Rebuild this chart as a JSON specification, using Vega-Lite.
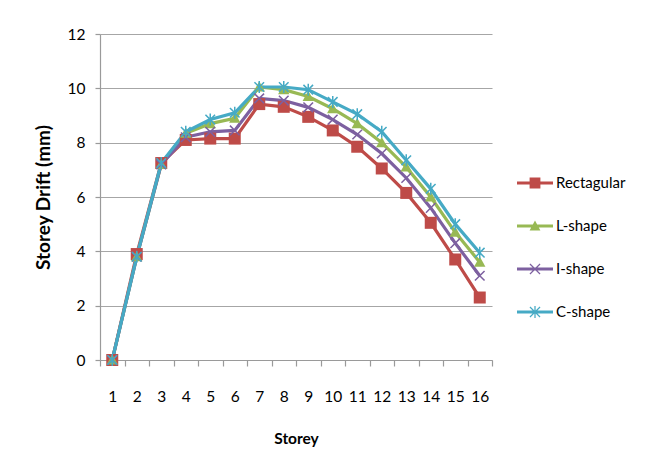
{
  "$schema": "https://vega.github.io/schema/vega-lite/v6.json",
  "width": 392,
  "height": 326,
  "autosize": {"type": "none"},
  "padding": {"left": 100, "top": 34, "right": 157, "bottom": 108},
  "background": "white",
  "config": {
    "font": "Lato",
    "view": {"stroke": null},
    "axis": {"labelColor": "#000000", "titleColor": "#000000", "domainColor": "#9a9a9a", "tickColor": "#9a9a9a", "gridColor": "#a6a6a6", "domainWidth": 1.2, "tickWidth": 1.2, "gridWidth": 1.2}
  },
  "datasets": {
    "d": [
      {"storey": 1, "series": "Rectagular", "drift": 0},
      {"storey": 2, "series": "Rectagular", "drift": 3.9},
      {"storey": 3, "series": "Rectagular", "drift": 7.25},
      {"storey": 4, "series": "Rectagular", "drift": 8.1},
      {"storey": 5, "series": "Rectagular", "drift": 8.15},
      {"storey": 6, "series": "Rectagular", "drift": 8.15},
      {"storey": 7, "series": "Rectagular", "drift": 9.42},
      {"storey": 8, "series": "Rectagular", "drift": 9.32},
      {"storey": 9, "series": "Rectagular", "drift": 8.95},
      {"storey": 10, "series": "Rectagular", "drift": 8.45},
      {"storey": 11, "series": "Rectagular", "drift": 7.85},
      {"storey": 12, "series": "Rectagular", "drift": 7.05},
      {"storey": 13, "series": "Rectagular", "drift": 6.15},
      {"storey": 14, "series": "Rectagular", "drift": 5.05},
      {"storey": 15, "series": "Rectagular", "drift": 3.7},
      {"storey": 16, "series": "Rectagular", "drift": 2.3},
      {"storey": 1, "series": "L-shape", "drift": 0},
      {"storey": 2, "series": "L-shape", "drift": 3.8},
      {"storey": 3, "series": "L-shape", "drift": 7.2},
      {"storey": 4, "series": "L-shape", "drift": 8.35},
      {"storey": 5, "series": "L-shape", "drift": 8.7},
      {"storey": 6, "series": "L-shape", "drift": 8.9},
      {"storey": 7, "series": "L-shape", "drift": 10.05},
      {"storey": 8, "series": "L-shape", "drift": 9.95},
      {"storey": 9, "series": "L-shape", "drift": 9.7},
      {"storey": 10, "series": "L-shape", "drift": 9.25},
      {"storey": 11, "series": "L-shape", "drift": 8.7},
      {"storey": 12, "series": "L-shape", "drift": 8.0},
      {"storey": 13, "series": "L-shape", "drift": 7.1},
      {"storey": 14, "series": "L-shape", "drift": 6.0},
      {"storey": 15, "series": "L-shape", "drift": 4.7},
      {"storey": 16, "series": "L-shape", "drift": 3.6},
      {"storey": 1, "series": "I-shape", "drift": 0},
      {"storey": 2, "series": "I-shape", "drift": 3.8},
      {"storey": 3, "series": "I-shape", "drift": 7.2},
      {"storey": 4, "series": "I-shape", "drift": 8.2},
      {"storey": 5, "series": "I-shape", "drift": 8.4},
      {"storey": 6, "series": "I-shape", "drift": 8.45},
      {"storey": 7, "series": "I-shape", "drift": 9.63},
      {"storey": 8, "series": "I-shape", "drift": 9.55},
      {"storey": 9, "series": "I-shape", "drift": 9.3},
      {"storey": 10, "series": "I-shape", "drift": 8.85},
      {"storey": 11, "series": "I-shape", "drift": 8.3},
      {"storey": 12, "series": "I-shape", "drift": 7.6},
      {"storey": 13, "series": "I-shape", "drift": 6.7},
      {"storey": 14, "series": "I-shape", "drift": 5.6},
      {"storey": 15, "series": "I-shape", "drift": 4.3},
      {"storey": 16, "series": "I-shape", "drift": 3.1},
      {"storey": 1, "series": "C-shape", "drift": 0},
      {"storey": 2, "series": "C-shape", "drift": 3.8},
      {"storey": 3, "series": "C-shape", "drift": 7.25},
      {"storey": 4, "series": "C-shape", "drift": 8.4},
      {"storey": 5, "series": "C-shape", "drift": 8.85},
      {"storey": 6, "series": "C-shape", "drift": 9.1},
      {"storey": 7, "series": "C-shape", "drift": 10.05},
      {"storey": 8, "series": "C-shape", "drift": 10.05},
      {"storey": 9, "series": "C-shape", "drift": 9.95},
      {"storey": 10, "series": "C-shape", "drift": 9.5},
      {"storey": 11, "series": "C-shape", "drift": 9.05},
      {"storey": 12, "series": "C-shape", "drift": 8.4},
      {"storey": 13, "series": "C-shape", "drift": 7.35},
      {"storey": 14, "series": "C-shape", "drift": 6.3},
      {"storey": 15, "series": "C-shape", "drift": 5.0},
      {"storey": 16, "series": "C-shape", "drift": 3.95}
    ]
  },
  "data": {"name": "d"},
  "encoding": {
    "x": {
      "field": "storey", "type": "ordinal",
      "scale": {"type": "band", "paddingInner": 0, "paddingOuter": 0},
      "axis": {"title": "Storey", "labelAngle": 0, "tickBand": "extent", "tickSize": 6, "labelPadding": 23, "labelFontSize": 15.5, "titleFontSize": 15.5, "titleFontWeight": "bold", "titlePadding": 27, "grid": false}
    },
    "y": {
      "field": "drift", "type": "quantitative",
      "scale": {"domain": [0, 12]},
      "axis": {"title": "Storey Drift (mm)", "values": [0, 2, 4, 6, 8, 10, 12], "tickSize": 5, "labelPadding": 10, "labelFontSize": 15.5, "titleFontSize": 19, "titleFontWeight": "bold", "titlePadding": 14, "grid": true}
    }
  },
  "layer": [
    {
      "mark": {"type": "line", "strokeWidth": 3.2},
      "encoding": {
        "color": {
          "field": "series", "type": "nominal",
          "scale": {"domain": ["Rectagular", "L-shape", "I-shape", "C-shape"], "range": ["#BE4B48", "#98B954", "#7D60A0", "#46AAC5"]},
          "legend": null
        }
      }
    },
    {
      "mark": {"type": "point", "filled": true, "opacity": 1, "size": 144, "strokeWidth": 0},
      "encoding": {
        "color": {
          "field": "series", "type": "nominal",
          "scale": {"domain": ["Rectagular", "L-shape", "I-shape", "C-shape"], "range": ["#BE4B48", "#98B954", "#7D60A0", "#46AAC5"]},
          "legend": null
        },
        "shape": {
          "field": "series", "type": "nominal",
          "scale": {"domain": ["Rectagular", "L-shape", "I-shape", "C-shape"], "range": [
            "M-1,-1H1V1H-1Z",
            "M0,-0.95L0.95,0.75H-0.95Z",
            "M-0.71,-0.89L0.89,0.71L0.71,0.89L-0.89,-0.71ZM-0.89,0.71L0.71,-0.89L0.89,-0.71L-0.71,0.89Z",
            "M-0.71,-0.89L0.89,0.71L0.71,0.89L-0.89,-0.71ZM-0.89,0.71L0.71,-0.89L0.89,-0.71L-0.71,0.89ZM-0.125,-1H0.125V1H-0.125Z"
          ]},
          "legend": null
        }
      }
    },
    {
      "transform": [{"filter": "datum.storey == 1"}],
      "mark": {"type": "point", "filled": true, "opacity": 0, "size": 1296, "strokeWidth": 0},
      "encoding": {
        "fill": {
          "field": "series", "type": "nominal",
          "scale": {"domain": ["Rectagular", "L-shape", "I-shape", "C-shape"], "range": ["#BE4B48", "#98B954", "#7D60A0", "#46AAC5"]},
          "legend": {"title": null, "orient": "none", "legendX": 417, "legendY": 131, "padding": 0, "symbolSize": 1296, "symbolOpacity": 1, "symbolFillColor": "#888888", "symbolStrokeWidth": 0, "rowPadding": 17, "labelOffset": 3, "labelFontSize": 15, "labelColor": "#000000"}
        },
        "shape": {
          "field": "series", "type": "nominal",
          "scale": {"domain": ["Rectagular", "L-shape", "I-shape", "C-shape"], "range": [
            "M-1,-0.083H1V0.083H-1ZM-0.3,-0.3H0.3V0.3H-0.3Z",
            "M-1,-0.083H1V0.083H-1ZM0,-0.3L0.3,0.25H-0.3Z",
            "M-1,-0.083H1V0.083H-1ZM-0.256,-0.304L0.304,0.256L0.256,0.304L-0.304,-0.256ZM-0.304,0.256L0.256,-0.304L0.304,-0.256L-0.256,0.304Z",
            "M-1,-0.083H1V0.083H-1ZM-0.256,-0.304L0.304,0.256L0.256,0.304L-0.304,-0.256ZM-0.304,0.256L0.256,-0.304L0.304,-0.256L-0.256,0.304ZM-0.035,-0.33H0.035V0.33H-0.035Z"
          ]},
          "legend": {"title": null, "orient": "none", "legendX": 417, "legendY": 131, "padding": 0, "symbolSize": 1296, "symbolOpacity": 1, "symbolFillColor": "#888888", "symbolStrokeWidth": 0, "rowPadding": 17, "labelOffset": 3, "labelFontSize": 15, "labelColor": "#000000"}
        }
      }
    }
  ],
  "resolve": {"scale": {"shape": "independent", "fill": "independent"}}
}
